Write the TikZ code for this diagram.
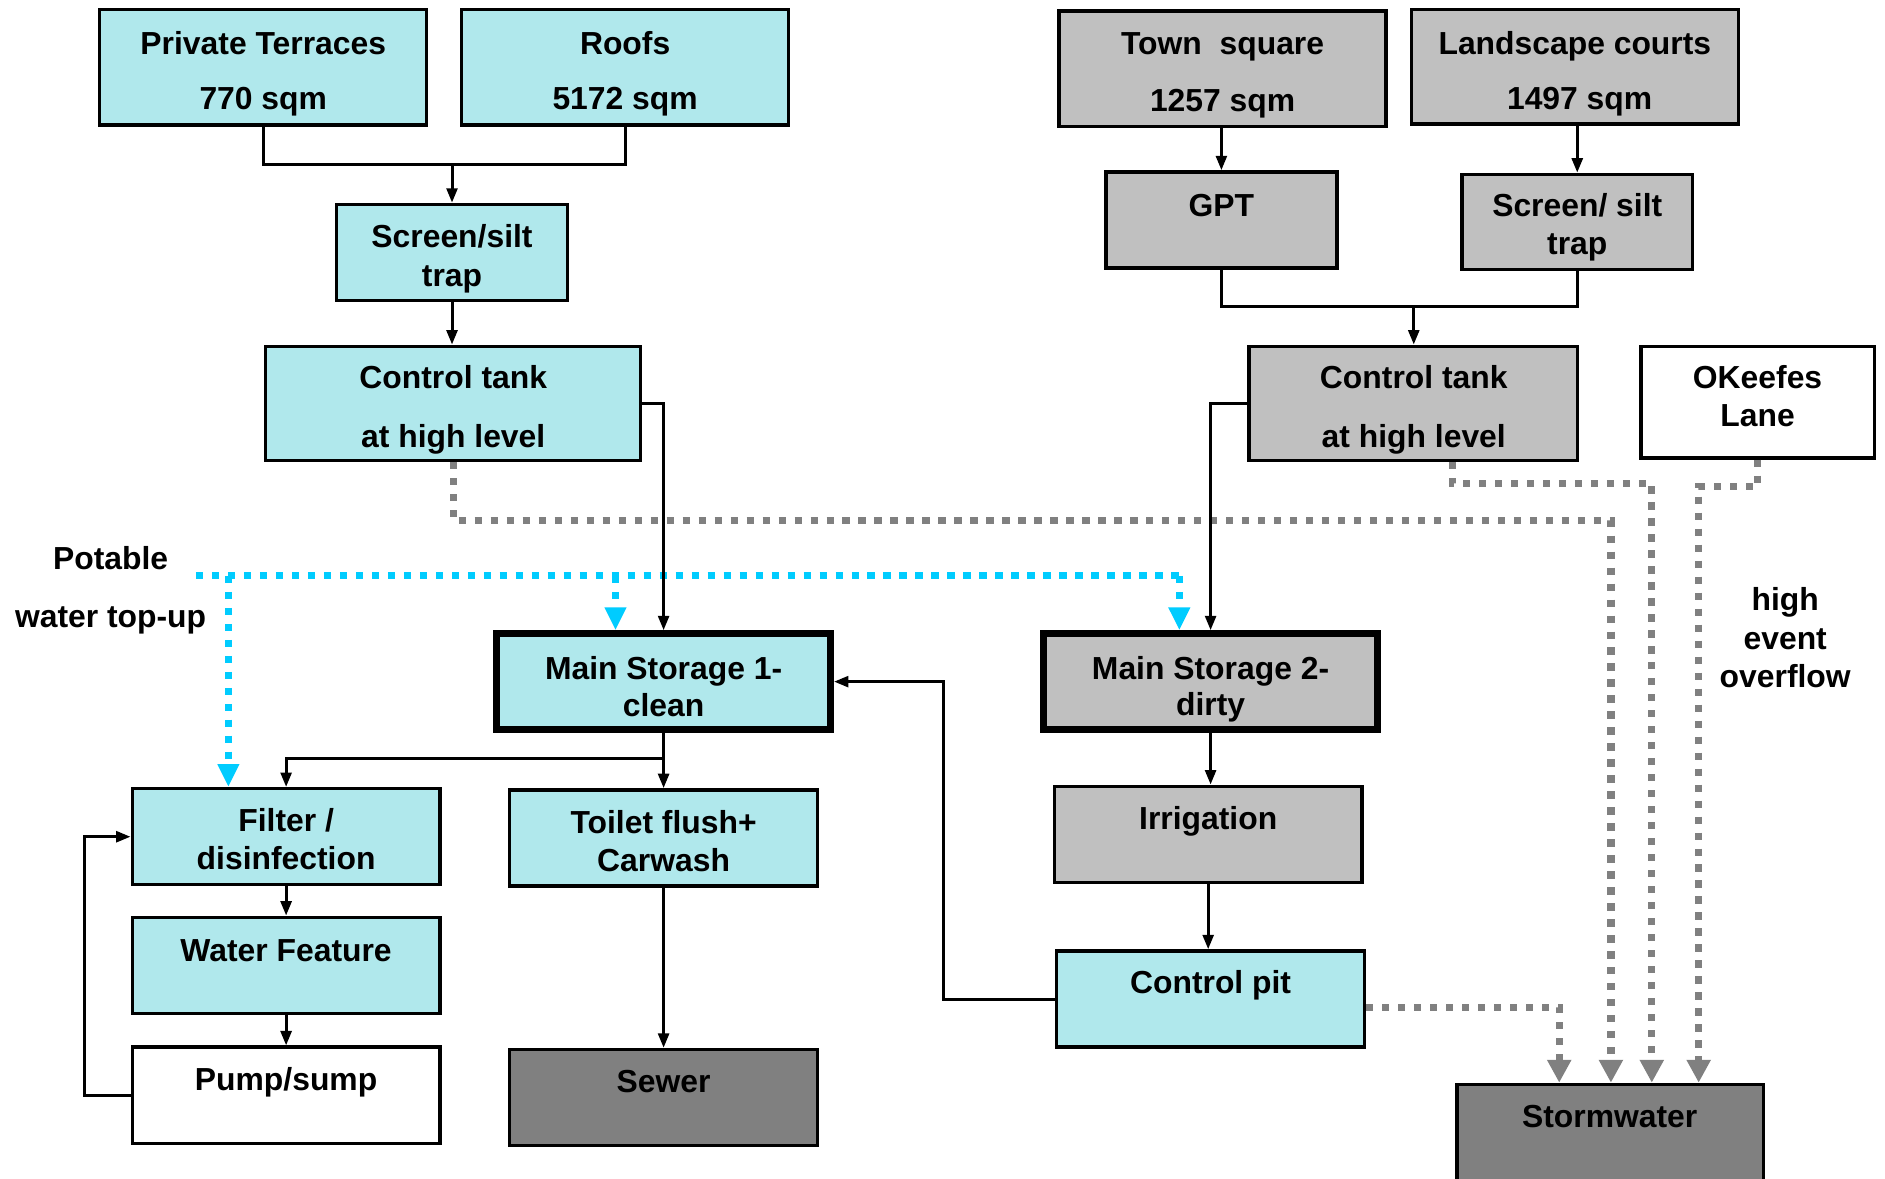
\documentclass[tikz,border=0pt]{standalone}
\usepackage{fontspec}
\setmainfont{Liberation Sans}
\usetikzlibrary{arrows.meta}
\definecolor{cyanfill}{RGB}{176,232,236}
\definecolor{grayfill}{RGB}{192,192,192}
\definecolor{darkfill}{RGB}{128,128,128}
\definecolor{dotgray}{RGB}{128,128,128}
\definecolor{lineblue}{RGB}{0,204,255}
\begin{document}
\begin{tikzpicture}[x=1pt,y=-1pt,
  box/.style={draw=black, line width=2.8, inner sep=0},
  cbox/.style={box, fill=cyanfill},
  gbox/.style={box, fill=grayfill},
  dbox/.style={box, fill=darkfill},
  wbox/.style={box, fill=white},
  heavy/.style={line width=5.5},
  txt/.style={font=\fontsize{26.5}{31}\selectfont\bfseries, inner sep=0, anchor=base},
  ln/.style={draw=black, line width=2.5},
  arr/.style={ln, -{Triangle[length=12,width=9]}},
  gdot/.style={draw=dotgray, line width=6, dash pattern=on 6 off 7.3},
  garr/.style={gdot, -{Triangle[length=19,width=19]}},
  cdot/.style={draw=lineblue, line width=6, dash pattern=on 6 off 7.3},
  carr/.style={cdot, -{Triangle[length=19,width=17]}}
]
\useasboundingbox (0,0) rectangle (1568,980);
\fill[white] (0,0) rectangle (1568,980);

% boxes
\node[cbox, minimum width=272, minimum height=96] (pt) at (219,56) {};
\node[cbox, minimum width=272, minimum height=96] (roofs) at (520,56) {};
\node[cbox, minimum width=192, minimum height=80] (st1) at (376,210) {};
\node[cbox, minimum width=312, minimum height=95] (ct1) at (377,335.5) {};
\node[gbox, minimum width=272, minimum height=96] (town) at (1017,57) {};
\node[gbox, minimum width=272, minimum height=95] (land) at (1310,55.5) {};
\node[gbox, minimum width=192, minimum height=80] (gpt) at (1016,183) {};
\node[gbox, minimum width=192, minimum height=79] (st2) at (1312,184.5) {};
\node[gbox, minimum width=273, minimum height=95] (ct2) at (1175.5,335.5) {};
\node[wbox, minimum width=194, minimum height=93] (ok) at (1462,334.5) {};
\node[cbox, heavy, minimum width=278, minimum height=80] (ms1) at (552,567) {};
\node[gbox, heavy, minimum width=278, minimum height=80] (ms2) at (1007,567) {};
\node[cbox, minimum width=256, minimum height=80] (filter) at (238,696) {};
\node[cbox, minimum width=256, minimum height=80] (toilet) at (552,697) {};
\node[cbox, minimum width=256, minimum height=80] (wf) at (238,803) {};
\node[wbox, minimum width=256, minimum height=80] (pump) at (238,911) {};
\node[dbox, minimum width=256, minimum height=80] (sewer) at (552,913) {};
\node[gbox, minimum width=256, minimum height=80] (irrig) at (1005,694) {};
\node[cbox, minimum width=256, minimum height=80] (cpit) at (1007,831) {};
\node[dbox, minimum width=255, minimum height=100] (storm) at (1339.5,952) {};

% texts
\node[txt] (tpt1) at (219,35+10) {Private Terraces};
\node[txt] (tpt2) at (219,82+9) {770 sqm};
\node[txt] (tro1) at (520,35+10) {Roofs};
\node[txt] (tro2) at (520,82+9) {5172 sqm};
\node[txt] (tst1) at (376,197+9) {Screen/silt};
\node[txt] (tst2) at (376,229+9) {trap};
\node[txt] (tct1) at (377,314+9) {Control tank};
\node[txt] (tct2) at (377,362+10) {at high level};
\node[txt] (ttw1) at (1017,36+9) {Town\ \ square};
\node[txt] (ttw2) at (1017,84+9) {1257 sqm};
\node[txt] (tla1) at (1310,35+10) {Landscape courts};
\node[txt] (tla2) at (1314,82+9) {1497 sqm};
\node[txt] (tgpt) at (1016,171+9) {GPT};
\node[txt] (tss1) at (1312,171+9) {Screen/ silt};
\node[txt] (tss2) at (1312,203+9) {trap};
\node[txt] (tcu1) at (1176,314+9) {Control tank};
\node[txt] (tcu2) at (1176,362+10) {at high level};
\node[txt] (tok1) at (1462,314+9) {OKeefes};
\node[txt] (tok2) at (1462,346+9) {Lane};
\node[txt] (tm11) at (552,556+9) {Main Storage 1-};
\node[txt] (tm12) at (552,587+9) {clean};
\node[txt] (tm21) at (1007,556+9) {Main Storage 2-};
\node[txt] (tm22) at (1007,587+8) {dirty};
\node[txt] (tfi1) at (238,683+9) {Filter /};
\node[txt] (tfi2) at (238,714+9) {disinfection};
\node[txt] (tto1) at (552,684+9) {Toilet flush+};
\node[txt] (tto2) at (552,716+9) {Carwash};
\node[txt] (twf) at (238,790+10) {Water Feature};
\node[txt] (tpu) at (238,898+9) {Pump/sump};
\node[txt] (tse) at (552,900+9) {Sewer};
\node[txt] (tir) at (1005,681+9) {Irrigation};
\node[txt] (tcp) at (1007,817+9) {Control pit};
\node[txt] (tsw) at (1339,929+9) {Stormwater};
\node[txt] (tpo1) at (92,464+10) {Potable};
\node[txt] (tpo2) at (92,513+9) {water top-up};
\node[txt] (thi1) at (1485,499+9) {high};
\node[txt] (thi2) at (1485,531+9) {event};
\node[txt] (thi3) at (1485,563+9) {overflow};

% gray overflow lines
\coordinate (g1) at (1340,433);
\coordinate (g2a) at (1208,402);
\coordinate (g2b) at (1374,402);
\coordinate (g3) at (1413,405);
\coordinate (g4) at (1297,838);
\draw[garr] (ct1.south) |- (g1) -- (g1 |- storm.north);
\draw[garr] (ct2.south -| g2a) |- (g2b) -- (g2b |- storm.north);
\draw[garr] (ok.south) |- (g3) -- (g3 |- storm.north);
\draw[garr] (cpit.east |- g4) -- (g4) -- (g4 |- storm.north);

% potable water top-up
\coordinate (pw0) at (163,479);
\coordinate (pw1) at (190,479);
\coordinate (pw2) at (512,479);
\coordinate (pw3) at (981,479);
\draw[cdot] (pw0) -- (pw3);
\draw[carr] (pw1) -- (pw1 |- filter.north);
\draw[carr] (pw2) -- (pw2 |- ms1.north);
\draw[carr] (pw3) -- (pw3 |- ms2.north);

% black connectors
\coordinate (j1) at (376,137);
\coordinate (j2) at (1176,255);
\coordinate (j3) at (552,631);
\coordinate (lp) at (70,800);
\coordinate (j5) at (785,700);
\draw[ln] (pt.south) |- (j1) -| (roofs.south);
\draw[arr] (j1) -- (st1.north);
\draw[arr] (st1.south) -- (st1.south |- ct1.north);
\draw[arr] (ct1.east) -| (ms1.north);
\draw[arr] (gpt.north |- town.south) -- (gpt.north);
\draw[arr] (st2.north |- land.south) -- (st2.north);
\draw[ln] (gpt.south) |- (j2) -| (st2.south);
\draw[arr] (j2) -- (j2 |- ct2.north);
\draw[arr] (ct2.west) -| (ms2.north);
\draw[ln] (ms1.south) -- (j3);
\draw[arr] (j3) -| (filter.north);
\draw[arr] (j3) -- (toilet.north);
\draw[arr] (filter.south) -- (wf.north);
\draw[arr] (wf.south) -- (pump.north);
\draw[arr] (pump.west) -| (lp) |- (filter.west);
\draw[arr] (toilet.south) -- (sewer.north);
\draw[arr] (ms2.south) -- (ms2.south |- irrig.north);
\draw[arr] (irrig.south) -- (irrig.south |- cpit.north);
\draw[arr] (cpit.west) -| (j5) |- (ms1.east);
\end{tikzpicture}
\end{document}
